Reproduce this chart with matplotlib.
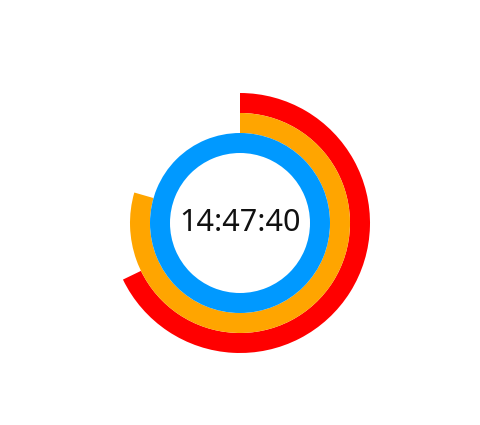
import matplotlib
matplotlib.use("Agg")
import matplotlib.pyplot as plt
from matplotlib.patches import Wedge

# ── Data ────────────────────────────────────────────────────────────────
time_label = "14:47:40"
ring_names = ["seconds", "minutes", "hours"]
ring_values = [40.7, 47.68, 14]
ring_max = [60, 60, 12]
ring_colors = ["#ff0000", "#ffa500", "#0099ff"]

W, H = 481, 425
cx, cy = 240, H - 223
outer_r = [130, 110, 90]
ring_w = 20

fig = plt.figure(figsize=(W / 100, H / 100), dpi=100)
ax = fig.add_axes([0, 0, 1, 1])
ax.set_xlim(0, W)
ax.set_ylim(0, H)
ax.set_aspect("equal")
ax.axis("off")

for name, val, mx, col, r in zip(ring_names, ring_values, ring_max, ring_colors, outer_r):
    frac = min(val / mx, 1.0)
    sweep = 360 * frac
    # clockwise from 12 o'clock
    w = Wedge((cx, cy), r, 90 - sweep, 90, width=ring_w, facecolor=col, edgecolor="none")
    ax.add_patch(w)

ax.text(cx, cy, time_label, ha="center", va="center", fontsize=22,
        family=["Noto Sans", "DejaVu Sans"], color="#111111")

fig.savefig("out.png", dpi=100)
